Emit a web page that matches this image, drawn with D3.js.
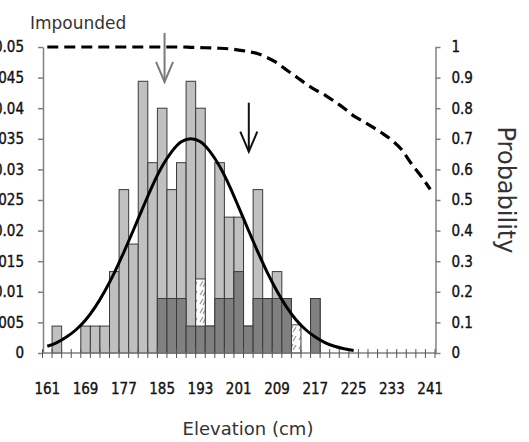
<!DOCTYPE html>
<html>
<head>
<meta charset="utf-8">
<script src="https://cdn.jsdelivr.net/npm/d3@7"></script>
<style>
  body { margin: 0; background: #fff; }
  svg { display: block; }
</style>
</head>
<body>
<svg id="chart" width="529" height="442"></svg>
<script>
// Elevation classes (cm), 2 cm bins
const categories = [161,163,165,167,169,171,173,175,177,179,181,183,185,187,189,191,193,195,197,199,
                    201,203,205,207,209,211,213,215,217,219,221,223,225,227,229,231,233,235,237,239,241];

// Relative frequency of all plants per elevation class
const allPlants = [0,0.0044,0,0,0.0044,0.0044,0.0044,0.0133,0.0267,0.0178,0.0444,0.0311,0.04,0.0267,0.0311,0.0444,0.04,0.0044,0.0311,0.0222,
                   0.0222,0.0044,0.0267,0.0089,0.0133,0.0089,0,0,0.0089,0,0,0,0,0,0,0,0,0,0,0,0];

// Relative frequency of the second group
const groupB = [0,0,0,0,0,0,0,0,0,0,0,0,0.0089,0.0089,0.0089,0.0044,0.0044,0.0044,0.0089,0.0089,
                0.0133,0.0044,0.0089,0.0089,0.0089,0.0089,0,0,0.0089,0,0,0,0,0,0,0,0,0,0,0,0];

// Relative frequency of the hatched group
const groupC = [0,0,0,0,0,0,0,0,0,0,0,0,0,0,0,0,0.0121,0,0,0,
                0,0,0,0,0,0,0.0046,0,0,0,0,0,0,0,0,0,0,0,0,0,0];

// Fitted curve, elevations 161..225
const fitted = [0.0011,0.0017,0.0026,0.0038,0.0054,0.0075,0.0101,0.0131,0.0165,0.0201,0.0238,0.0274,0.0305,0.0329,0.0345,0.035,
                0.0345,0.0329,0.0305,0.0274,0.0238,0.0201,0.0165,0.0131,0.0101,0.0075,0.0054,0.0038,0.0026,0.0017,0.0011,0.0007,0.0004];

// Cumulative probability (right axis)
const probability = [1,1,1,1,1,1,1,1,1,1,1,1,1,1,1,0.999,0.998,0.997,0.996,0.994,
                     0.99,0.985,0.978,0.965,0.948,0.925,0.903,0.88,0.86,0.843,0.822,0.8,0.775,0.757,0.738,0.718,0.695,0.665,0.62,0.58,0.535];

const xTickLabels = [161,169,177,185,193,201,209,217,225,233,241];
const leftTicks = [0,0.005,0.01,0.015,0.02,0.025,0.03,0.035,0.04,0.045,0.05];
const rightTicks = [0,0.1,0.2,0.3,0.4,0.5,0.6,0.7,0.8,0.9,1];

// Arrow markers: elevation, top and tip (density units)
const arrows = [
  { elev: 185.5, from: 0.0523, to: 0.0443, color: "#7a7a7a" },
  { elev: 203.1, from: 0.0409, to: 0.0329, color: "#111" }
];

const svg = d3.select("#chart");
svg.append("rect").attr("width", 529).attr("height", 442).attr("fill", "#fff");

const x = d3.scaleBand().domain(categories).range([42.5, 435]).padding(0);
const cx = c => x(c) + x.bandwidth() / 2;
const xLin = d3.scaleLinear().domain([161, 241]).range([cx(161), cx(241)]);
const y = d3.scaleLinear().domain([0, 0.05]).range([353, 47]);
const yP = d3.scaleLinear().domain([0, 1]).range([353, 47]);

const defs = svg.append("defs");
const pat = defs.append("pattern").attr("id", "hatch").attr("patternUnits", "userSpaceOnUse")
  .attr("width", 9).attr("height", 9);
pat.append("rect").attr("width", 9).attr("height", 9).attr("fill", "#fff");
pat.append("path").attr("d", "M2,7 L5,2 M5,8 L8,3").attr("stroke", "#9a9a9a").attr("stroke-width", 1.3).attr("fill", "none");

function drawBars(values, fill) {
  svg.append("g").selectAll("rect")
    .data(categories.map((c, i) => ({ c, v: values[i] })).filter(d => d.v > 0))
    .join("rect")
    .attr("x", d => x(d.c))
    .attr("width", x.bandwidth())
    .attr("y", d => y(d.v))
    .attr("height", d => y(0) - y(d.v))
    .attr("fill", fill)
    .attr("stroke", "#3a3a3a")
    .attr("stroke-width", 1);
}
drawBars(allPlants, "#c0c0c0");
drawBars(groupC, "url(#hatch)");
drawBars(groupB, "#808080");

// Axes
const tickFont = "'DejaVu Sans Condensed', 'DejaVu Sans', sans-serif";
const fmt = v => String(+v.toFixed(3));
const styleTickText = sel => sel
  .attr("font-family", tickFont).attr("font-size", 15).attr("fill", "#111")
  .attr("stroke", "#111").attr("stroke-width", 0.35);

const gl = svg.append("g").attr("transform", "translate(43,0)")
  .call(d3.axisLeft(y).tickValues(leftTicks).tickFormat(fmt).tickSize(5).tickSizeOuter(0).tickPadding(14));
const gr = svg.append("g").attr("transform", "translate(435.5,0)")
  .call(d3.axisRight(yP).tickValues(rightTicks).tickFormat(fmt).tickSize(5).tickSizeOuter(0).tickPadding(11));
[gl, gr].forEach(g => {
  g.select(".domain").attr("stroke", "#808080").attr("stroke-width", 1.5);
  g.selectAll(".tick line").attr("stroke", "#808080").attr("stroke-width", 1.5);
  g.selectAll(".tick text").call(styleTickText);
});

// Category axis: boundary ticks, labels every 8 cm
const gx = svg.append("g");
gx.append("line").attr("x1", 42.5).attr("x2", 435.5).attr("y1", y(0)).attr("y2", y(0))
  .attr("stroke", "#808080").attr("stroke-width", 1.5);
gx.selectAll("line.tk").data(categories.concat([null])).join("line").attr("class", "tk")
  .attr("x1", d => d === null ? x.range()[1] : x(d))
  .attr("x2", d => d === null ? x.range()[1] : x(d))
  .attr("y1", y(0) - 4).attr("y2", y(0) + 5)
  .attr("stroke", "#555").attr("stroke-width", 1);
gx.selectAll("text").data(xTickLabels).join("text")
  .attr("x", d => cx(d)).attr("y", 394)
  .attr("text-anchor", "middle")
  .call(styleTickText)
  .text(d => d);

// Fitted curve
svg.append("path")
  .datum(fitted.map((v, i) => [cx(categories[i]), y(v)]))
  .attr("d", d3.line().curve(d3.curveMonotoneX))
  .attr("fill", "none").attr("stroke", "#000").attr("stroke-width", 3);

// Cumulative probability
svg.append("path")
  .datum(probability.map((v, i) => [cx(categories[i]), yP(v)]))
  .attr("d", d3.line().curve(d3.curveMonotoneX))
  .attr("fill", "none").attr("stroke", "#000").attr("stroke-width", 3.2)
  .attr("stroke-dasharray", "11,6");

// Arrows
arrows.forEach(a => {
  const ax = xLin(a.elev), y0 = y(a.from), y1 = y(a.to);
  const g = svg.append("g").attr("stroke", a.color).attr("stroke-width", 2).attr("fill", "none");
  g.append("line").attr("x1", ax).attr("x2", ax).attr("y1", y0).attr("y2", y1);
  g.append("path").attr("d", `M${ax - 8.5},${y1 - 20} L${ax},${y1} L${ax + 8.5},${y1 - 20}`);
});

// Titles
const titleFont = "'DejaVu Sans', Verdana, sans-serif";
svg.append("text").attr("x", 30).attr("y", 28.5)
  .attr("font-family", titleFont).attr("font-size", 17).attr("fill", "#333").text("Impounded");
svg.append("text").attr("x", 248).attr("y", 435).attr("text-anchor", "middle")
  .attr("font-family", titleFont).attr("font-size", 18).attr("fill", "#333").text("Elevation (cm)");
svg.append("text").attr("transform", "translate(498,190) rotate(90)").attr("text-anchor", "middle")
  .attr("font-family", titleFont).attr("font-size", 24).attr("fill", "#333").text("Probability");
</script>
</body>
</html>
